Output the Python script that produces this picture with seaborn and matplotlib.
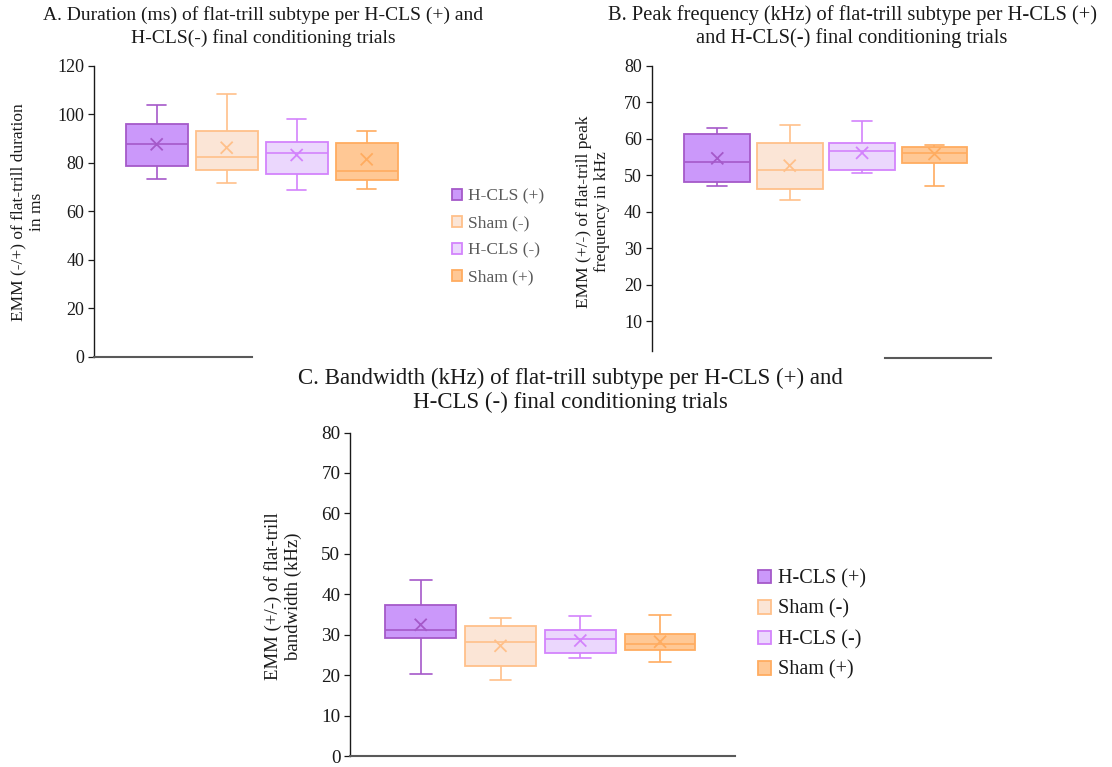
import numpy as np
import pandas as pd
import seaborn as sns
import matplotlib.pyplot as plt
from matplotlib.patches import Patch

# Groups and their colours
groups = ["H-CLS (+)", "Sham (-)", "H-CLS (-)", "Sham (+)"]
fill_colors = ["#CB98FA", "#FBE5D6", "#EBD7FD", "#FFC895"]
edge_colors = ["#A559C9", "#FFC08A", "#D383FC", "#FFAC60"]

# A. Duration (ms): lower whisker, Q1, median, Q3, upper whisker, mean
dur_low = [73.5, 71.7, 68.7, 69.1]
dur_q1 = [78.8, 77.3, 75.3, 72.8]
dur_med = [88.0, 82.4, 84.1, 76.9]
dur_q3 = [96.1, 93.1, 88.5, 88.4]
dur_high = [103.9, 108.5, 98.0, 93.1]
dur_mean = [87.7, 86.3, 83.3, 81.5]

# B. Peak frequency (kHz)
peak_low = [47.1, 43.1, 50.5, 46.9]
peak_q1 = [48.2, 46.2, 51.4, 53.4]
peak_med = [53.6, 51.4, 56.6, 56.2]
peak_q3 = [61.2, 58.7, 58.7, 57.8]
peak_high = [63.0, 63.7, 64.9, 58.2]
peak_mean = [54.6, 52.6, 56.1, 55.8]

# C. Bandwidth (kHz)
bw_low = [20.3, 18.9, 24.3, 23.3]
bw_q1 = [29.2, 22.3, 25.5, 26.2]
bw_med = [31.2, 28.2, 29.1, 27.8]
bw_q3 = [37.5, 32.2, 31.2, 30.2]
bw_high = [43.6, 34.1, 34.7, 34.9]
bw_mean = [32.5, 27.3, 28.6, 28.3]

sns.set_style("white")
plt.rcParams["font.family"] = ["Liberation Serif", "DejaVu Serif"]
plt.rcParams["text.color"] = "#1a1a1a"

W, H = 1112, 767
fig = plt.figure(figsize=(W / 100, H / 100), dpi=100)


def summary_frame(low, q1, med, q3, high):
    # five summary values per group; with whiskers at 0/100 percentiles
    # the box spans exactly Q1..Q3 and whiskers reach low/high
    rows = []
    for g, vals in zip(groups, zip(low, q1, med, q3, high)):
        for v in vals:
            rows.append({"group": g, "value": v})
    return pd.DataFrame(rows)


def px_rect(left, top, right, bottom):
    return [left / W, 1 - bottom / H, (right - left) / W, (bottom - top) / H]


def draw_panel(rect, stats, means, xlim, ylim, yticks, xspine, yspine,
               width, cap_half, tick_size):
    ax = fig.add_axes(rect)
    df = summary_frame(*stats)
    sns.boxplot(data=df, x="group", y="value", hue="group", order=groups,
                hue_order=groups, palette=dict(zip(groups, fill_colors)),
                whis=(0, 100), width=width, saturation=1, linewidth=1.2,
                showfliers=False, legend=False, ax=ax)
    for c in ax.containers:
        boxes = list(getattr(c, "boxes", []))
        whiskers = list(getattr(c, "whiskers", []))
        caps = list(getattr(c, "caps", []))
        medians = list(getattr(c, "medians", []))
        for j, box in enumerate(boxes):
            verts = box.get_path().vertices
            cx = (verts[:, 0].min() + verts[:, 0].max()) / 2
            i = int(round(cx))
            ec = edge_colors[i]
            box.set_edgecolor(ec)
            box.set_linewidth(1.3)
            for ln in whiskers[2 * j:2 * j + 2] + medians[j:j + 1]:
                ln.set_color(ec)
                ln.set_linewidth(1.2)
            for cap in caps[2 * j:2 * j + 2]:
                cap.set_color(ec)
                cap.set_linewidth(1.2)
                cap.set_xdata([cx - cap_half, cx + cap_half])
    mdf = pd.DataFrame({"group": groups, "mean": means})
    sns.scatterplot(data=mdf, x="group", y="mean", hue="group",
                    palette=dict(zip(groups, edge_colors)), marker="x",
                    s=75, linewidth=1.3, legend=False, ax=ax, zorder=6)
    ax.set_xlim(*xlim)
    ax.set_ylim(*ylim)
    ax.set_yticks(yticks)
    ax.set_xticks([])
    ax.set_xlabel("")
    ax.set_ylabel("")
    for s in ("top", "right"):
        ax.spines[s].set_visible(False)
    ax.spines["left"].set_color("#1a1a1a")
    ax.spines["left"].set_linewidth(1.0)
    ax.spines["left"].set_bounds(*yspine)
    ax.spines["bottom"].set_color("#595959")
    ax.spines["bottom"].set_linewidth(1.5)
    ax.spines["bottom"].set_bounds(*xspine)
    ax.tick_params(axis="y", left=True, length=4, width=0.9, color="#1a1a1a",
                   labelsize=tick_size, labelcolor="#1a1a1a", pad=3)
    ax.patch.set_alpha(0)
    return ax


# Panel A
draw_panel(px_rect(94.3, 66, 94.3 + (3.6 + 0.891) * 70, 357),
           (dur_low, dur_q1, dur_med, dur_q3, dur_high), dur_mean,
           xlim=(-0.891, 3.6), ylim=(0, 120), yticks=range(0, 121, 20),
           xspine=(-0.891, 1.357), yspine=(0, 120),
           width=0.89, cap_half=0.135, tick_size=13)

# Panel B
draw_panel(px_rect(651.7, 65.7, 651.7 + (3.85 + 0.906) * 72.4, 357.5),
           (peak_low, peak_q1, peak_med, peak_q3, peak_high), peak_mean,
           xlim=(-0.906, 3.85), ylim=(0, 80), yticks=range(10, 81, 10),
           xspine=(2.316, 3.776), yspine=(1.8, 80),
           width=0.91, cap_half=0.136, tick_size=13)

# Panel C
draw_panel(px_rect(350, 432.5, 350 + (4.0 + 0.886) * 79.8, 756.3),
           (bw_low, bw_q1, bw_med, bw_q3, bw_high), bw_mean,
           xlim=(-0.886, 4.0), ylim=(0, 80), yticks=range(0, 81, 10),
           xspine=(-0.886, 3.94), yspine=(0, 80),
           width=0.886, cap_half=0.136, tick_size=13.8)

# Titles
fig.text(263 / W, 1 - 26.5 / H,
         "A. Duration (ms) of flat-trill subtype per H-CLS (+) and\n"
         "H-CLS(-) final conditioning trials",
         ha="center", va="center", fontsize=14, linespacing=1.32)
fig.text(852 / W, 1 - 26.5 / H,
         "B. Peak frequency (kHz) of flat-trill subtype per H-CLS (+)\n"
         "and H-CLS(-) final conditioning trials",
         ha="center", va="center", fontsize=14.8, linespacing=1.25)
fig.text(570 / W, 1 - 390.5 / H,
         "C. Bandwidth (kHz) of flat-trill subtype per H-CLS (+) and\n"
         "H-CLS (-) final conditioning trials",
         ha="center", va="center", fontsize=16.5, linespacing=1.22)

# Y-axis labels
fig.text(27.5 / W, 1 - 212 / H, "EMM (-/+) of flat-trill duration\nin ms",
         rotation=90, ha="center", va="center", multialignment="center",
         fontsize=12.5, linespacing=1.2)
fig.text(593 / W, 1 - 212 / H, "EMM (+/-) of flat-trill peak\nfrequency in kHz",
         rotation=90, ha="center", va="center", multialignment="center",
         fontsize=12.5, linespacing=1.2)
fig.text(283 / W, 1 - 596 / H, "EMM (+/-) of flat-trill\nbandwidth (kHz)",
         rotation=90, ha="center", va="center", multialignment="center",
         fontsize=13.5, linespacing=1.2)

# Legends
handles = [Patch(facecolor=f, edgecolor=e, linewidth=1.3)
           for f, e in zip(fill_colors, edge_colors)]
fig.legend(handles=handles, labels=groups, loc="center left",
           bbox_to_anchor=(452 / W, 1 - 237 / H), frameon=False,
           fontsize=12.5, labelcolor="#595959", handlelength=0.6,
           handleheight=0.6, handletextpad=0.35, labelspacing=0.64,
           borderpad=0, borderaxespad=0)
fig.legend(handles=handles, labels=groups, loc="center left",
           bbox_to_anchor=(758 / W, 1 - 624.5 / H), frameon=False,
           fontsize=14.5, labelcolor="#1a1a1a", handlelength=0.65,
           handleheight=0.65, handletextpad=0.35, labelspacing=0.56,
           borderpad=0, borderaxespad=0)

fig.savefig("out.png", dpi=100)
